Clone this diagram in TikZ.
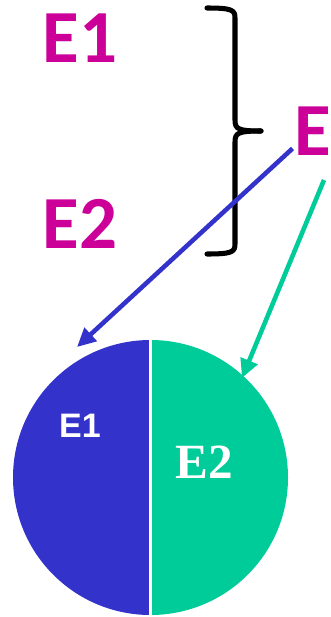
\documentclass[tikz,border=0pt]{standalone}
\usepackage{fontspec}
\usetikzlibrary{arrows.meta}
\newfontfamily\calibfont{Carlito}
\newfontfamily\arialfont{Liberation Sans}
\newfontfamily\timesfont{Liberation Serif}
\definecolor{magentaE}{HTML}{CC0099}
\definecolor{blueE}{HTML}{3333CC}
\definecolor{greenE}{HTML}{00CC99}
\tikzset{
  bigname/.style={text=magentaE, inner sep=0pt, font=\calibfont\bfseries\fontsize{64}{64}\selectfont},
  pointer/.style={line width=3.9pt, line cap=butt, -{Triangle[length=16pt,width=15pt]}},
}
\begin{document}
\begin{tikzpicture}[x=0.03cm, y=-0.03cm, line join=round]
\useasboundingbox (0,0) rectangle (330,617);
\def\r{137.5}
\coordinate (top) at (150.5,340);
% the two halves of the set
\fill[blueE] (top) arc (270:90:\r) -- cycle;
\fill[greenE] (top) arc (-90:90:\r) -- cycle;
\draw[white, line width=2.6pt] (150.5,339) -- (150.5,616);
\node[text=white, inner sep=0pt, font=\arialfont\bfseries\fontsize{29}{29}\selectfont] (e1in) at (80,426) {E1};
\node[text=white, inner sep=0pt, font=\timesfont\bfseries\fontsize{42}{42}\selectfont] (e2in) at (204,462) {E2};
% names
\node[bigname] (e1) at (80,38) {E1};
\node[bigname] (e2) at (80,224) {E2};
\node[bigname, anchor=east] (e) at (331,131) {E};
% brace
\draw[line width=4.3pt, line cap=round] (207,8) .. controls (232,8) and (235,10) .. (235,18)
  -- (235,120) .. controls (235,129) and (238,131) .. (261,131);
\draw[line width=4.3pt, line cap=round] (261,131) .. controls (238,131) and (235,133) .. (235,142)
  -- (235,244) .. controls (235,252) and (232,254) .. (207,254);
% arrows
\coordinate (bfrom) at (292.5,148.5);
\coordinate (bto) at (77,347);
\coordinate (gfrom) at (324,180);
\coordinate (gto) at (242,378);
\draw[pointer, blueE] (bfrom) -- (bto);
\draw[pointer, greenE] (gfrom) -- (gto);
\end{tikzpicture}
\end{document}
